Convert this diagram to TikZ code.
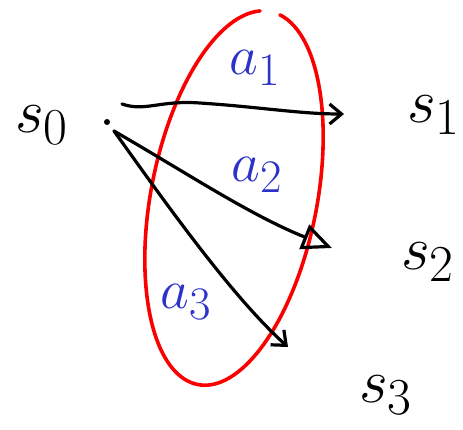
\documentclass[tikz,border=0pt]{standalone}
\usetikzlibrary{arrows.meta}
\definecolor{colorSet}{RGB}{250, 0, 0}
\definecolor{colorAct}{RGB}{45, 50, 200}
\newcommand{\stateLbl}[1]{\scalebox{2.5}{$#1$}}
\newcommand{\actLbl}[1]{\scalebox{2.25}{$#1$}}

\begin{document}
\begin{tikzpicture}[x=1pt,y=-1pt,
  state/.style={font=\Huge,inner sep=0pt},
  act/.style={font=\Huge,inner sep=0pt,text=colorAct},
  edge/.style={line width=3.2pt,line cap=round,line join=round},
  barb/.style={edge,-{Straight Barb[length=12pt,width=20pt]}},
  tri/.style={edge,-{Triangle[open,length=30pt,width=26pt]}},
  set/.style={line width=3.6pt,colorSet,line cap=round},
]
\useasboundingbox (0,0) rectangle (463,429);

% States
\node[state] (s0) at (42,125) {\stateLbl{s_0}};
\node[state] (s1) at (434,115) {\stateLbl{s_1}};
\node[state] (s2) at (428,262) {\stateLbl{s_2}};
\node[state] (s3) at (386,395) {\stateLbl{s_3}};

% Source dot and arrow ends
\node[circle,fill,inner sep=0pt,minimum size=6pt] (dot) at (107,122) {};
\coordinate (o1) at (122,104);
\coordinate (o2) at (114,131);
\coordinate (t1) at (344,114);
\coordinate (t2) at (332,248);
\coordinate (t3) at (288,347);

% Action set
\draw[set, rotate around={-11:(234,198)}] (234,198) ++(-83:83 and 190)
  arc[start angle=-83, end angle=263, x radius=83, y radius=190];

% Actions
\node[act] (a1) at (255,68) {\actLbl{a_1}};
\node[act] (a2) at (257,175) {\actLbl{a_2}};
\node[act] (a3) at (186,302) {\actLbl{a_3}};

% Transitions
\draw[barb] (o1) .. controls (145,112) and (160,100) .. (200,103)
  .. controls (260,107) and (300,114) .. (t1);
\draw[tri] (o2) .. controls (190,175) and (250,215) .. (t2);
\draw[barb] (o2) .. controls (160,195) and (230,295) .. (t3);

\end{tikzpicture}
\end{document}
